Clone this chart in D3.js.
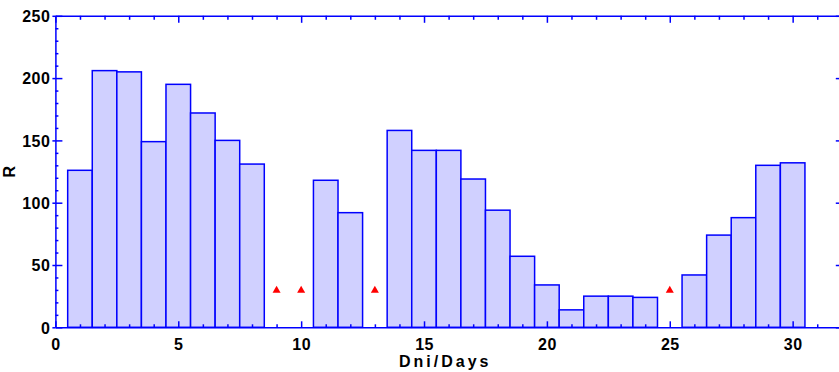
<!DOCTYPE html>
<html>
<head>
<meta charset="utf-8">
<script src="https://cdn.jsdelivr.net/npm/d3@7"></script>
<style>
  body { margin: 0; background: #fff; }
  svg { display: block; font-family: "Liberation Sans", Arial, sans-serif; }
  .lbl { font-weight: bold; font-size: 16px; fill: #000; letter-spacing: 0.5px; }
</style>
</head>
<body>
<svg id="chart" width="839" height="372"></svg>
<script>
// daily values, null = no data (marked with a triangle)
const days = d3.range(1, 31);
const values = [126, 206, 205, 149, 195, 172, 150, 131, null, null,
                118, 92, null, 158, 142, 142, 119, 94, 57, 34,
                14, 25, 25, 24, null, 42, 74, 88, 130, 132];
const missingLevel = 30;
const xTicks = [0, 5, 10, 15, 20, 25, 30];
const yTicks = [0, 50, 100, 150, 200, 250];

const svg = d3.select("#chart");
const mLeft = 55.4, mRight = 841.8, mTop = 15.8, mBottom = 327.3;

const x = d3.scaleLinear().domain([0, 32]).range([mLeft, mRight]);
const y = d3.scaleLinear().domain([0, 250]).range([mBottom, mTop]);

const blue = "#0000ff";

// bars
svg.append("g").selectAll("rect")
    .data(days.filter((d, i) => values[i] != null))
    .enter().append("rect")
    .attr("x", d => x(d - 0.5))
    .attr("width", d => x(d + 0.5) - x(d - 0.5))
    .attr("y", d => y(values[d - 1]))
    .attr("height", d => y(0) - y(values[d - 1]))
    .attr("fill", "#d0d0ff")
    .attr("stroke", blue)
    .attr("stroke-width", 1.5);

// missing-day markers
svg.append("g").selectAll("path")
    .data(days.filter((d, i) => values[i] == null))
    .enter().append("path")
    .attr("d", d3.symbol().type(d3.symbolTriangle).size(28))
    .attr("transform", d => "translate(" + x(d) + "," + (y(missingLevel) + 0.5) + ")")
    .attr("fill", "#ff0000");

const minorX = d3.range(0, 33).filter(v => v % 5 !== 0);
const minorY = d3.range(0, 251, 10).filter(v => v % 50 !== 0);

function style(g) {
    g.select(".domain").attr("stroke", blue).attr("stroke-width", 1.5);
    g.selectAll(".tick line").attr("stroke", blue).attr("stroke-width", 1.5);
    g.selectAll(".tick text").attr("class", "lbl");
}

// bottom axis
svg.append("g").attr("transform", "translate(0," + mBottom + ")")
    .call(d3.axisBottom(x).tickValues(xTicks).tickSizeInner(-6).tickSizeOuter(0).tickPadding(11))
    .call(style);
svg.append("g").attr("transform", "translate(0," + mBottom + ")")
    .call(d3.axisBottom(x).tickValues(minorX).tickSize(-3).tickFormat(""))
    .call(style).select(".domain").remove();

// top axis
svg.append("g").attr("transform", "translate(0," + mTop + ")")
    .call(d3.axisTop(x).tickValues(xTicks).tickSizeInner(-7).tickSizeOuter(0).tickFormat(""))
    .call(style);
svg.append("g").attr("transform", "translate(0," + mTop + ")")
    .call(d3.axisTop(x).tickValues(minorX).tickSize(-4).tickFormat(""))
    .call(style).select(".domain").remove();

// left axis
svg.append("g").attr("transform", "translate(" + mLeft + ",0)")
    .call(d3.axisLeft(y).tickValues(yTicks).tickSizeInner(-7).tickSizeOuter(0).tickPadding(5))
    .call(style)
    .selectAll(".tick text").attr("x", -5).attr("dy", "0.36em");
svg.append("g").attr("transform", "translate(" + mLeft + ",0)")
    .call(d3.axisLeft(y).tickValues(yTicks).tickSize(3).tickFormat(""))
    .call(style).select(".domain").remove();
svg.append("g").attr("transform", "translate(" + mLeft + ",0)")
    .call(d3.axisLeft(y).tickValues(minorY).tickSize(-3).tickFormat(""))
    .call(style).select(".domain").remove();

// right axis
svg.append("g").attr("transform", "translate(" + mRight + ",0)")
    .call(d3.axisRight(y).tickValues(yTicks).tickSizeInner(-6).tickSizeOuter(0).tickFormat(""))
    .call(style);

// axis titles
svg.append("text").attr("class", "lbl")
    .attr("x", 399).attr("y", 367)
    .style("letter-spacing", "3px")
    .text("Dni/Days");
svg.append("text").attr("class", "lbl")
    .attr("transform", "translate(15," + ((mTop + mBottom) / 2) + ") rotate(-90)")
    .attr("text-anchor", "middle")
    .text("R");
</script>
</body>
</html>
